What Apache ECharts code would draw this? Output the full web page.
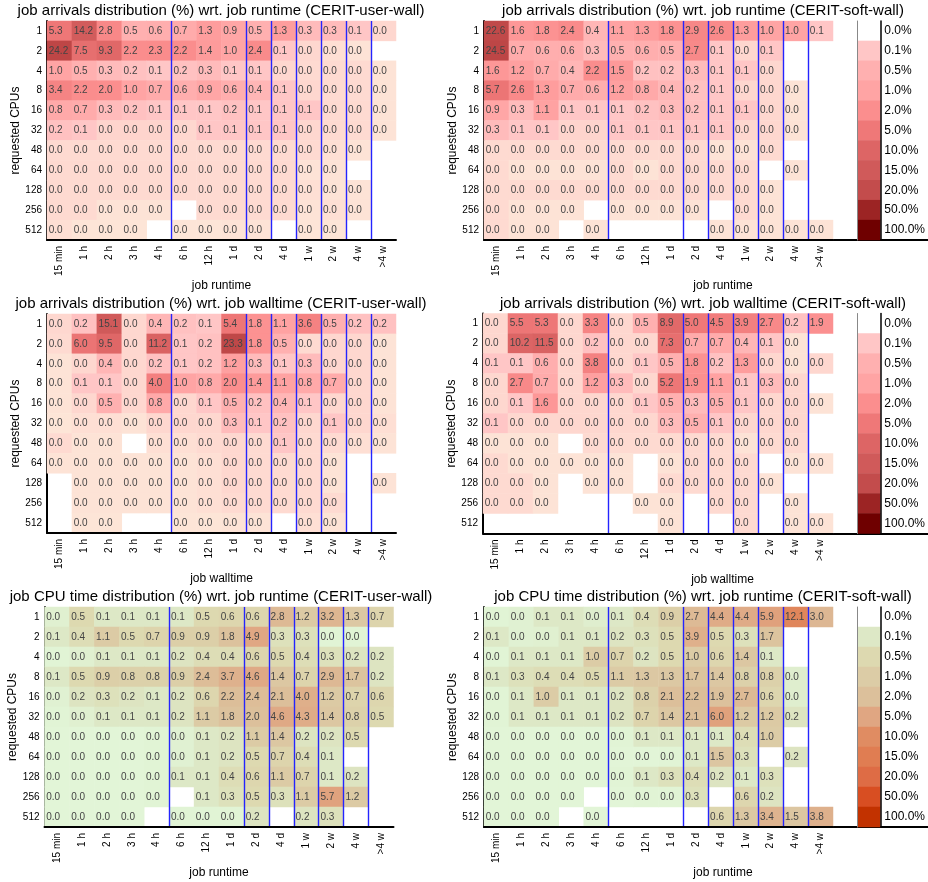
<!DOCTYPE html>
<html><head><meta charset="utf-8">
<script src="https://cdn.jsdelivr.net/npm/echarts@6/dist/echarts.min.js"></script>
<style>html,body{margin:0;padding:0;background:#fff}#c{width:928px;height:882px}</style>
</head><body><div id="c"></div>
<script>
const cpuRows = ['1','2','4','8','16','32','48','64','128','256','512'];
const timeCols = ['15 min','1 h','2 h','3 h','4 h','6 h','12 h','1 d','2 d','4 d','1 w','2 w','4 w','>4 w'];
const blueBoundaries = [3,5,8,9,10,11,12,13];
const legendLevels = [0,0.1,0.5,1,2,5,10,15,20,50,100];
const legendLabels = ['0.0%','0.1%','0.5%','1.0%','2.0%','5.0%','10.0%','15.0%','20.0%','50.0%','100.0%'];
const redStops = ['#fdebda','#ffc6c6','#ffb0b0','#ffa4a4','#fb8e8e','#ef7878','#dd6565','#d05a5a','#c34c4c','#9c2424','#6f0000'];
const greenStops = ['#e3f9dc','#dde8c6','#ddd9b0','#dccca6','#dcc09b','#e0a682','#e08c62','#e07d52','#de6c45','#d84e22','#c23200'];

// job arrivals (%) wrt. job runtime, CERIT-user-wall
const arrRuntimeUser = [
 [5.3,14.2,2.8,0.5,0.6,0.7,1.3,0.9,0.5,1.3,0.3,0.3,0.1,0.03],
 [24.2,7.5,9.3,2.2,2.3,2.2,1.4,1.0,2.4,0.1,0.03,0.01,0.005,null],
 [1.0,0.5,0.3,0.2,0.1,0.2,0.3,0.1,0.1,0.03,0.02,0.02,0.02,0.005],
 [3.4,2.2,2.0,1.0,0.7,0.6,0.9,0.6,0.4,0.1,0.03,0.02,0.02,0.005],
 [0.8,0.7,0.3,0.2,0.1,0.1,0.1,0.2,0.1,0.1,0.1,0.02,0.02,0.005],
 [0.2,0.1,0.04,0.04,0.04,0.03,0.1,0.1,0.1,0.1,0.03,0.02,0.02,0.005],
 [0.02,0.02,0.02,0.02,0.02,0.02,0.02,0.02,0.02,0.02,0.02,0.01,0.005,null],
 [0.02,0.02,0.02,0.02,0.02,0.02,0.02,0.02,0.02,0.02,0.005,0.005,null,null],
 [0.02,0.02,0.02,0.02,0.02,0.02,0.02,0.02,0.02,0.02,0.01,0.005,0.005,null],
 [0.02,0.02,0.005,0.005,0.005,null,0.02,0.02,0.02,0.02,0.005,0.01,0.005,null],
 [0.01,0.003,0.003,0.003,null,0.003,0.003,0.005,0.005,null,0.003,0.003,null,null]
];
// job arrivals (%) wrt. job runtime, CERIT-soft-wall
const arrRuntimeSoft = [
 [22.6,1.6,1.8,2.4,0.4,1.1,1.3,1.8,2.9,2.6,1.3,1.0,1.0,0.1],
 [24.5,0.7,0.6,0.6,0.3,0.5,0.6,0.5,2.7,0.1,0.03,0.1,null,null],
 [1.6,1.2,0.7,0.4,2.2,1.5,0.2,0.2,0.3,0.1,0.1,0.03,null,null],
 [5.7,2.6,1.3,0.7,0.6,1.2,0.8,0.4,0.2,0.1,0.03,0.03,0.005,null],
 [0.9,0.3,1.1,0.1,0.1,0.1,0.2,0.3,0.2,0.1,0.1,0.03,0.005,null],
 [0.3,0.1,0.1,0.04,0.04,0.1,0.1,0.1,0.1,0.1,0.03,0.03,0.005,null],
 [0.02,0.02,0.02,0.02,0.02,0.02,0.02,0.02,0.02,0.005,0.005,0.02,null,null],
 [0.02,0.005,0.005,0.005,0.005,0.02,0.005,0.02,0.02,0.02,0.02,null,0.005,null],
 [0.02,0.02,0.02,0.02,0.02,0.02,0.02,0.02,0.02,0.02,0.02,0.005,null,null],
 [0.02,0.005,0.005,0.005,null,0.005,0.005,0.005,0.005,null,0.02,0.005,null,null],
 [0.02,0.005,0.005,null,0.005,null,null,null,null,0.005,0.005,0.005,0.005,0.005]
];
// job arrivals (%) wrt. job walltime, CERIT-user-wall
const arrWallUser = [
 [0.03,0.2,15.1,0.03,0.4,0.2,0.1,5.4,1.8,1.1,3.6,0.5,0.2,0.2],
 [0.02,6.0,9.5,0.03,11.2,0.1,0.2,23.3,1.8,0.5,0.02,0.03,0.03,0.005],
 [0.005,0.03,0.4,0.03,0.2,0.1,0.2,1.2,0.3,0.1,0.3,0.03,0.03,0.005],
 [0.005,0.1,0.1,0.03,4.0,1.0,0.8,2.0,1.4,1.1,0.8,0.7,0.03,0.005],
 [0.005,0.03,0.5,0.03,0.8,0.03,0.1,0.5,0.2,0.4,0.1,0.03,0.03,0.005],
 [0.003,0.01,0.01,0.005,0.03,0.03,0.03,0.3,0.1,0.2,0.03,0.1,0.03,0.01],
 [0.02,0.005,0.005,null,0.01,0.01,0.02,0.03,0.02,0.1,0.02,0.02,0.01,0.005],
 [0.005,0.005,0.005,0.005,0.005,0.005,0.01,0.03,0.02,0.02,0.02,0.005,null,null],
 [null,0.005,0.005,0.005,0.005,0.005,0.01,0.03,0.02,0.02,0.02,0.005,null,0.005],
 [null,0.005,0.005,0.005,0.005,0.005,0.01,0.02,0.02,0.02,0.02,0.02,null,null],
 [null,0.003,0.003,null,null,0.003,0.003,0.005,0.005,null,0.01,0.005,null,null]
];
// job arrivals (%) wrt. job walltime, CERIT-soft-wall
const arrWallSoft = [
 [0.03,5.5,5.3,0.03,3.3,0.03,0.5,8.9,5.0,4.5,3.9,2.7,0.2,1.9],
 [0.03,10.2,11.5,0.03,0.2,0.03,0.03,7.3,0.7,0.7,0.4,0.1,0.005,null],
 [0.1,0.1,0.6,0.03,3.8,0.03,0.1,0.5,1.8,0.2,1.3,0.03,0.005,0.03],
 [0.03,2.7,0.7,0.03,1.2,0.3,0.03,5.2,1.9,1.1,0.1,0.3,0.03,null],
 [0.03,0.1,1.6,0.03,0.03,0.03,0.1,0.5,0.3,0.5,0.1,0.03,0.03,0.005],
 [0.1,0.03,0.03,0.03,0.03,0.03,0.03,0.3,0.5,0.1,0.03,0.03,0.03,null],
 [0.005,0.005,0.005,null,0.02,0.02,0.02,0.02,0.02,0.02,0.005,0.02,0.02,null],
 [0.02,0.005,0.005,0.005,0.005,0.005,null,0.005,0.02,0.02,0.02,null,0.005,0.005],
 [0.02,0.02,0.005,null,0.005,0.005,null,0.02,0.02,0.02,0.02,0.005,null,null],
 [0.02,0.02,0.005,null,null,null,0.005,0.005,null,0.02,0.02,null,0.005,null],
 [null,null,null,null,null,null,null,0.005,null,null,0.02,null,0.005,0.005]
];
// job CPU time (%) wrt. job runtime, CERIT-user-wall
const cpuRuntimeUser = [
 [0.03,0.5,0.1,0.1,0.1,0.1,0.5,0.6,0.6,2.8,1.2,3.2,1.3,0.7],
 [0.1,0.4,1.1,0.5,0.7,0.9,0.9,1.8,4.9,0.3,0.3,0.01,0.01,null],
 [0.01,0.03,0.1,0.1,0.1,0.2,0.4,0.4,0.6,0.5,0.4,0.3,0.2,0.2],
 [0.1,0.5,0.9,0.8,0.8,0.9,2.4,3.7,4.6,1.4,0.7,2.9,1.7,0.2],
 [0.02,0.2,0.3,0.2,0.1,0.2,0.6,2.2,2.4,2.1,4.0,1.2,0.7,0.6],
 [0.01,0.03,0.1,0.1,0.1,0.2,1.1,1.8,2.0,4.6,4.3,1.4,0.8,0.5],
 [0.005,0.005,0.005,0.005,0.01,0.02,0.1,0.2,1.1,1.4,0.2,0.2,0.5,null],
 [0.005,0.005,0.005,0.005,0.01,0.02,0.1,0.2,0.5,0.7,0.4,0.1,null,null],
 [0.005,0.005,0.005,0.005,0.01,0.1,0.1,0.4,0.6,1.1,0.7,0.1,0.2,null],
 [0.005,0.005,0.005,0.005,0.01,null,0.1,0.3,0.5,0.3,1.1,5.7,1.2,null],
 [0.005,0.005,0.005,0.005,null,0.01,0.01,0.01,0.2,null,0.2,0.3,null,null]
];
// job CPU time (%) wrt. job runtime, CERIT-soft-wall
const cpuRuntimeSoft = [
 [0.01,0.02,0.1,0.1,0.04,0.1,0.4,0.9,2.7,4.4,4.4,5.9,12.1,3.0],
 [0.1,0.02,0.03,0.1,0.1,0.2,0.3,0.5,3.9,0.5,0.3,1.7,null,null],
 [0.01,0.1,0.1,0.1,1.0,0.7,0.2,0.5,1.0,0.6,1.4,0.1,null,null],
 [0.1,0.3,0.4,0.4,0.5,1.1,1.3,1.3,1.7,1.4,0.8,0.8,0.04,null],
 [0.01,0.1,1.0,0.1,0.1,0.2,0.8,2.1,2.2,1.9,2.7,0.6,0.04,null],
 [0.01,0.1,0.1,0.1,0.1,0.2,0.7,1.4,2.1,6.0,1.2,1.2,0.2,null],
 [0.005,0.005,0.005,0.005,0.005,0.01,0.1,0.1,0.1,0.1,0.4,1.0,null,null],
 [0.005,0.005,0.005,0.005,0.005,0.005,0.005,0.01,0.1,1.5,0.3,null,0.2,null],
 [0.005,0.005,0.005,0.005,0.005,0.01,0.1,0.3,0.4,0.2,0.1,0.3,null,null],
 [0.005,0.005,0.005,0.005,null,0.005,0.01,0.01,0.3,null,0.6,0.2,null,null],
 [0.005,0.005,0.005,null,0.005,null,null,null,null,0.6,1.3,3.4,1.5,3.8]
];

const FONT = '"Liberation Sans", Arial, sans-serif';
function rgb(h){return [parseInt(h.slice(1,3),16),parseInt(h.slice(3,5),16),parseInt(h.slice(5,7),16)];}
function colorFor(v, stops){
  for (let i = 1; i < legendLevels.length; i++) {
    if (v <= legendLevels[i]) {
      let t = Math.max(0, (v - legendLevels[i-1]) / (legendLevels[i] - legendLevels[i-1]));
      if (i === 1) t = Math.sqrt(t);
      const a = rgb(stops[i-1]), b = rgb(stops[i]);
      return 'rgb(' + a.map((x, k) => Math.round(x + (b[k] - x) * t)).join(',') + ')';
    }
  }
  return stops[stops.length - 1];
}

const panels = [
 {title:'job arrivals distribution (%) wrt. job runtime (CERIT-user-wall)', data:arrRuntimeUser, stops:redStops, xName:'job runtime', left:47, top:21, w:349, h:219, tx:221, ty:3, right:false},
 {title:'job arrivals distribution (%) wrt. job runtime (CERIT-soft-wall)', data:arrRuntimeSoft, stops:redStops, xName:'job runtime', left:484, top:21, w:349, h:219, tx:703, ty:3, right:true},
 {title:'job arrivals distribution (%) wrt. job walltime (CERIT-user-wall)', data:arrWallUser, stops:redStops, xName:'job walltime', left:47, top:314, w:349, h:219, tx:221, ty:296, right:false},
 {title:'job arrivals distribution (%) wrt. job walltime (CERIT-soft-wall)', data:arrWallSoft, stops:redStops, xName:'job walltime', left:483, top:313.5, w:350, h:220, tx:703, ty:296, right:true},
 {title:'job CPU time distribution (%) wrt. job runtime (CERIT-user-wall)', data:cpuRuntimeUser, stops:greenStops, xName:'job runtime', left:44.5, top:607, w:349, h:220, tx:221, ty:589, right:false},
 {title:'job CPU time distribution (%) wrt. job runtime (CERIT-soft-wall)', data:cpuRuntimeSoft, stops:greenStops, xName:'job runtime', left:484, top:607, w:349, h:220, tx:703, ty:589, right:true}
];

const option = {animation:false, backgroundColor:'#fff', textStyle:{fontFamily:FONT}, title:[], grid:[], xAxis:[], yAxis:[], series:[]};

panels.forEach(p => {
  option.title.push({text:p.title, left:p.tx, top:p.ty, textAlign:'center', padding:0,
    textStyle:{fontFamily:FONT, fontSize:15, fontWeight:'normal', color:'#000'}});
  const gi = option.grid.length;
  option.grid.push({left:p.left, top:p.top, width:p.w, height:p.h, containLabel:false});
  const xi = option.xAxis.length;
  option.xAxis.push({type:'category', gridIndex:gi, data:timeCols, z:5,
    name:p.xName, nameLocation:'middle', nameGap:40,
    nameTextStyle:{fontFamily:FONT, fontSize:12, color:'#000', padding: p.right ? [0,0,0,129] : 0},
    axisLine:{lineStyle:{color:'#000', width:2}}, axisTick:{show:false},
    axisLabel:{interval:0, rotate:90, fontSize:10, margin:6, color:'#000', fontFamily:FONT},
    splitLine:{show:true, showMinLine:false, showMaxLine:false,
      interval:(idx) => blueBoundaries.includes(idx), lineStyle:{color:'#2424ff', width:1.4}}
  });
  const yi = option.yAxis.length;
  option.yAxis.push({type:'category', gridIndex:gi, data:cpuRows, inverse:true,
    name:'requested CPUs', nameLocation:'middle', nameGap:22,
    nameTextStyle:{fontFamily:FONT, fontSize:12, color:'#000'},
    axisLine:{lineStyle:{color:'#000', width:2}}, axisTick:{show:false},
    axisLabel:{fontSize:10, margin:5, color:'#000', fontFamily:FONT}, splitLine:{show:false}});
  const items = [];
  p.data.forEach((row, r) => row.forEach((v, c) => {
    if (v !== null) items.push({value:[c, r, v], itemStyle:{color:colorFor(v, p.stops)}});
  }));
  option.series.push({type:'heatmap', xAxisIndex:xi, yAxisIndex:yi, data:items, z:2,
    itemStyle:{borderWidth:0}, emphasis:{disabled:true},
    label:{show:true, position:'insideLeft', distance:2, fontSize:10, color:'#444', fontFamily:FONT,
      formatter:(q) => q.value[2].toFixed(1)}});

  if (p.right) {
    // filler grid: extends the bottom axis line under the colour key
    const fg = option.grid.length;
    option.grid.push({left:p.left + p.w, right:0, top:p.top, height:p.h});
    option.xAxis.push({type:'category', gridIndex:fg, data:[''], axisLine:{lineStyle:{color:'#000', width:2}},
      axisTick:{show:false}, axisLabel:{show:false}, splitLine:{show:false}});
    option.yAxis.push({type:'value', gridIndex:fg, show:false});
    // colour key grid
    const lg = option.grid.length;
    option.grid.push({left:857.5, width:25, top:p.top, height:p.h});
    const lx = option.xAxis.length;
    option.xAxis.push({type:'category', gridIndex:lg, data:['key'], show:false});
    const ly = option.yAxis.length;
    option.yAxis.push({type:'category', gridIndex:lg, data:legendLabels, inverse:true, position:'right',
      axisLine:{lineStyle:{color:'#000', width:1.5}}, axisTick:{show:false},
      axisLabel:{fontSize:12, margin:4, color:'#000', fontFamily:FONT}, splitLine:{show:false}, z:5});
    option.yAxis.push({type:'category', gridIndex:lg, data:legendLabels, inverse:true, position:'left',
      axisLine:{lineStyle:{color:'#888', width:1}}, axisTick:{show:false}, axisLabel:{show:false}, z:5});
    option.series.push({type:'heatmap', xAxisIndex:lx, yAxisIndex:ly, emphasis:{disabled:true},
      data:legendLevels.map((lv, i) => ({value:[0, i, lv], itemStyle:{color: i === 0 ? '#ffffff' : colorFor(lv, p.stops)}})),
      label:{show:false}});
  }
});

const chart = echarts.init(document.getElementById('c'), null, {renderer:'canvas'});
chart.setOption(option);
</script></body></html>
